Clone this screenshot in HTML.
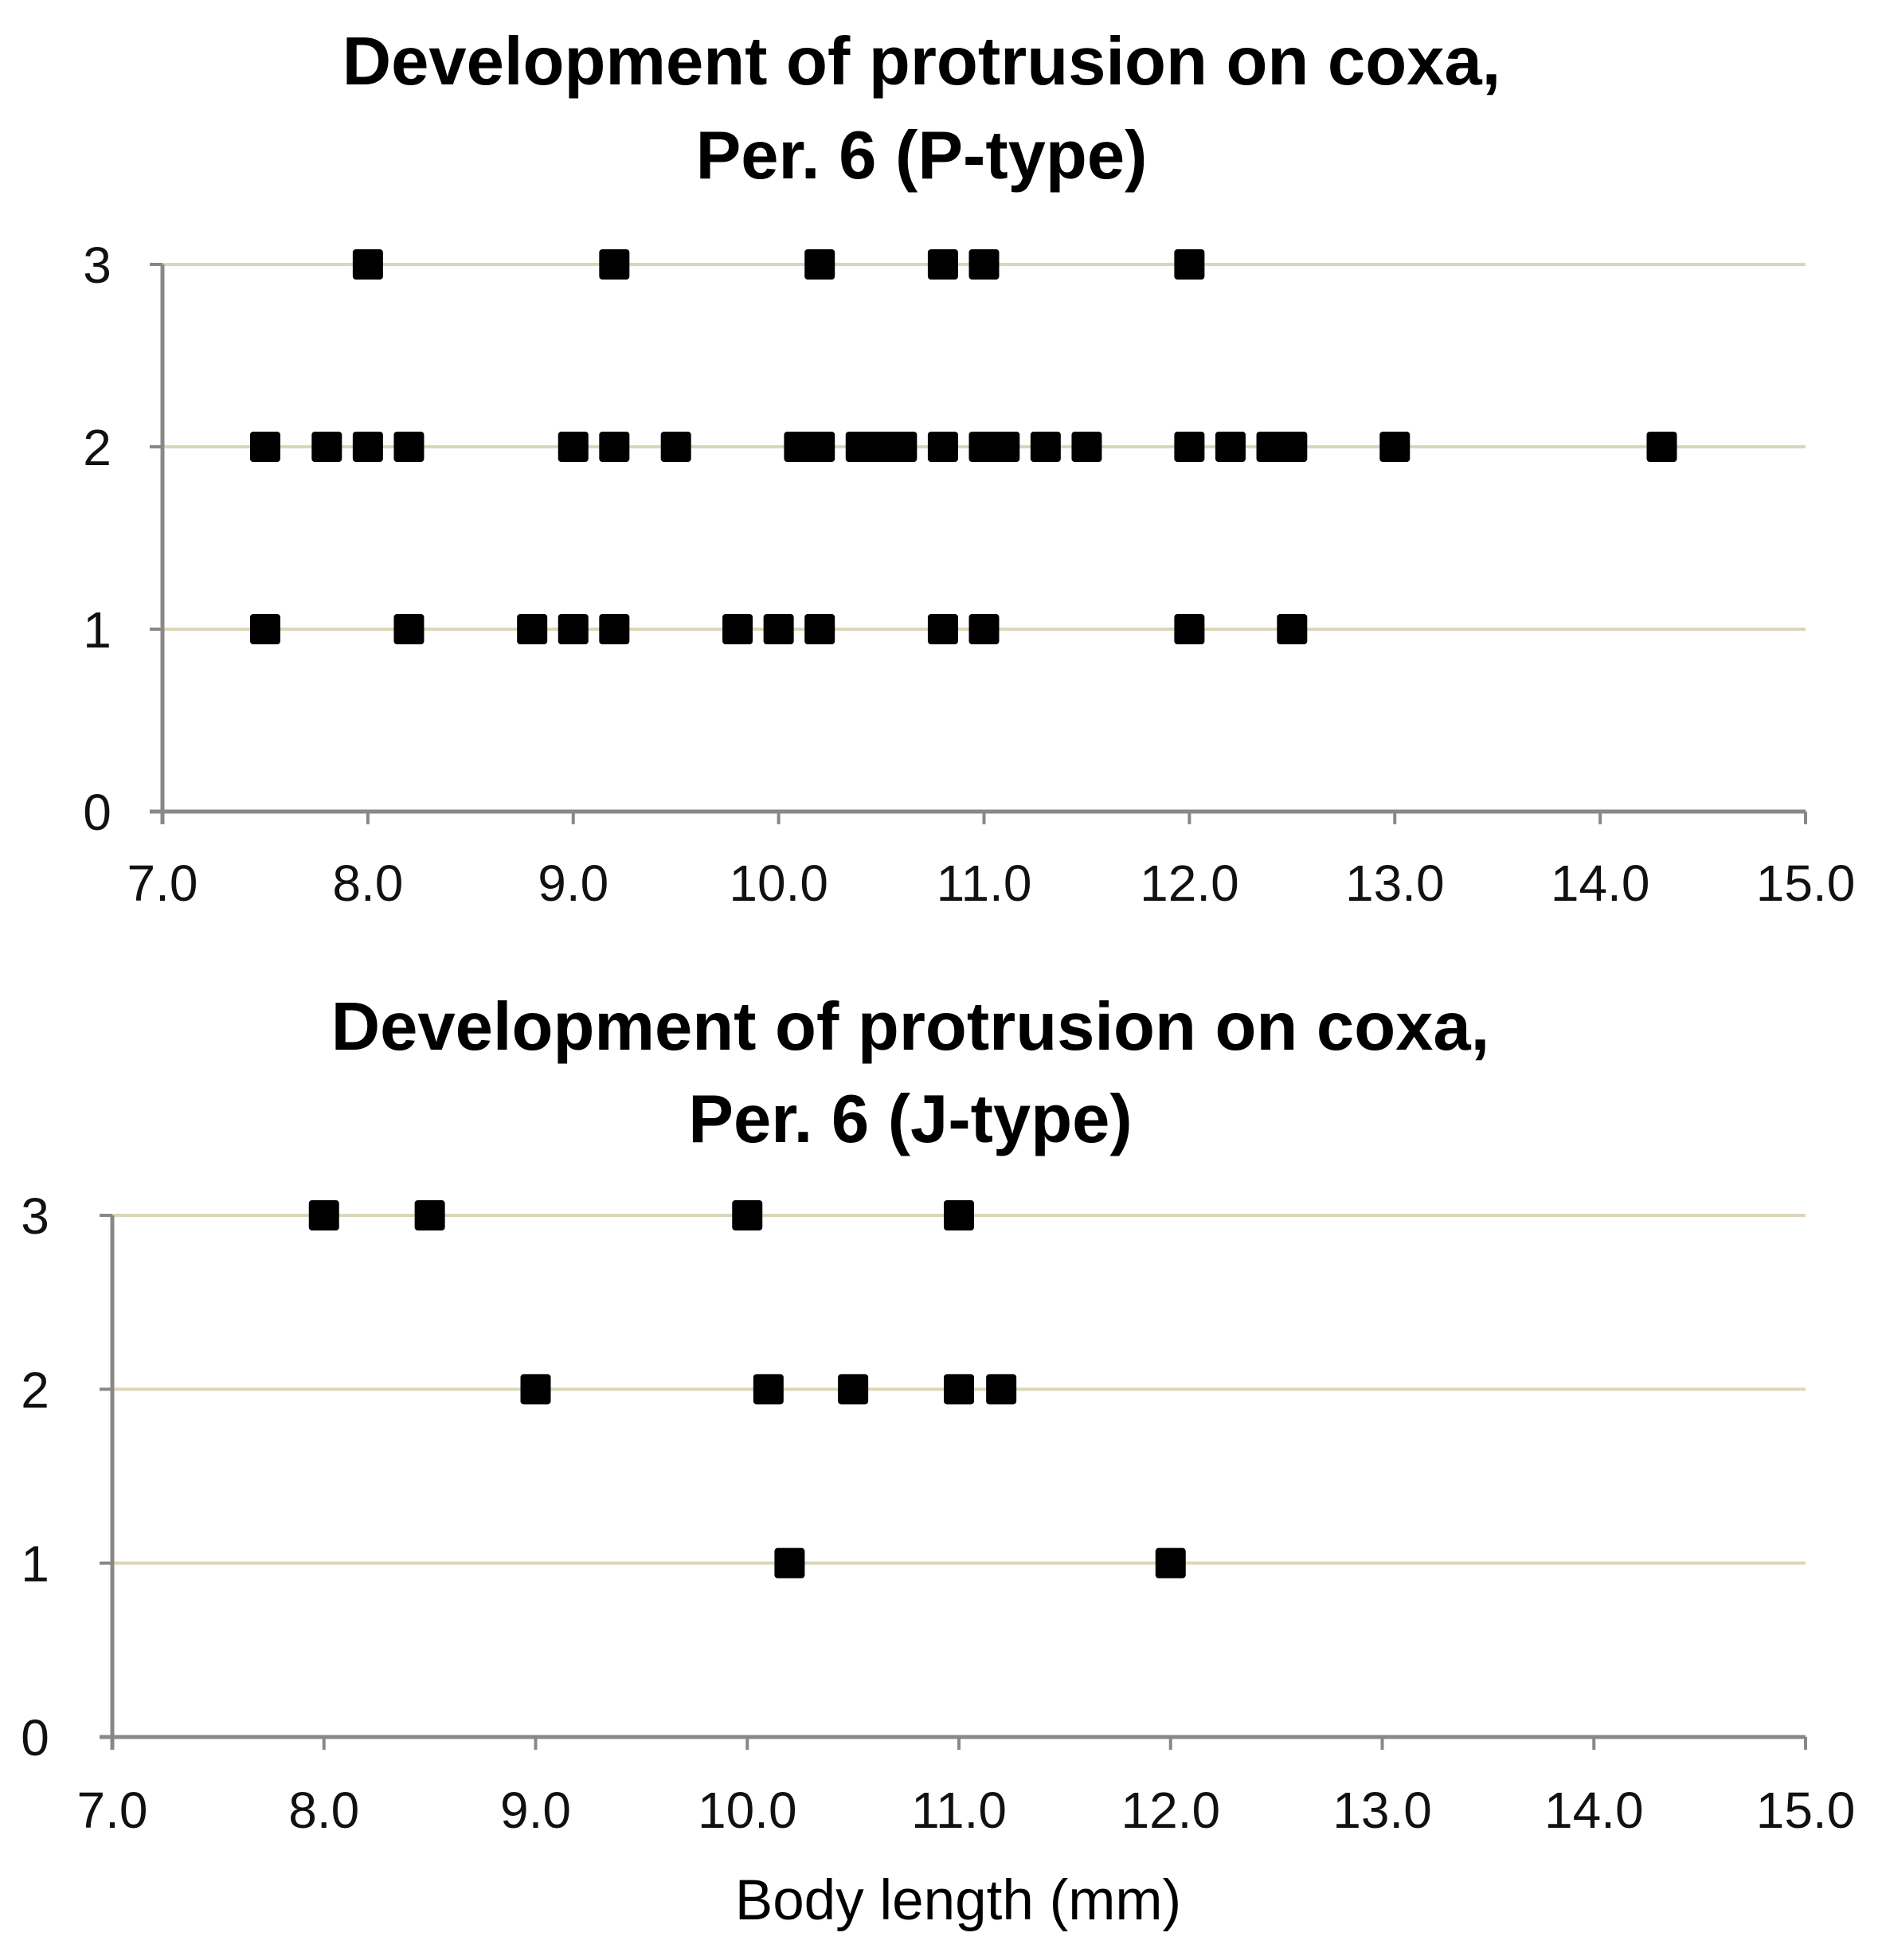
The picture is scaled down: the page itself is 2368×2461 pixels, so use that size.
<!DOCTYPE html>
<html><head><meta charset="utf-8"><style>
html,body{margin:0;padding:0;background:#fff;}
svg{display:block;font-family:"Liberation Sans","DejaVu Sans",sans-serif;}
</style></head><body>
<svg id="chart" width="2368" height="2461" viewBox="0 0 2368 2461">
<g>
<text x="1157" y="106" text-anchor="middle" font-size="85" font-weight="bold">Development of protrusion on coxa,</text>
<text x="1157" y="224" text-anchor="middle" font-size="85" font-weight="bold">Per. 6 (P-type)</text>
<g id="p1"></g>
</g>
<g>
<text x="1143" y="1318" text-anchor="middle" font-size="85" font-weight="bold">Development of protrusion on coxa,</text>
<text x="1143" y="1434" text-anchor="middle" font-size="85" font-weight="bold">Per. 6 (J-type)</text>
<g id="p2"></g>
</g>
<text x="1203" y="2410" text-anchor="middle" font-size="71">Body length (mm)</text>
</svg>
<script>
const xTicks = [7,8,9,10,11,12,13,14,15];
const yTicks = [0,1,2,3];
const pLevel3 = [8.0, 9.2, 10.2, 10.8, 11.0, 12.0];
const pLevel2 = [7.5, 7.8, 8.0, 8.2, 9.0, 9.2, 9.5, 10.1, 10.2, 10.4, 10.5, 10.6, 10.8, 11.0, 11.1, 11.3, 11.5, 12.0, 12.2, 12.4, 12.5, 13.0, 14.3];
const pLevel1 = [7.5, 8.2, 8.8, 9.0, 9.2, 9.8, 10.0, 10.2, 10.8, 11.0, 12.0, 12.5];
const jLevel3 = [8.0, 8.5, 10.0, 11.0];
const jLevel2 = [9.0, 10.1, 10.5, 11.0, 11.2];
const jLevel1 = [10.2, 12.0];

const NS = 'http://www.w3.org/2000/svg';
function mk(parent, tag, attrs){
  const e = document.createElementNS(NS, tag);
  for (const k in attrs) e.setAttribute(k, attrs[k]);
  parent.appendChild(e);
  return e;
}
function drawPanel(gid, prefix, L, R, Y0, Y3, ylabX, xlabY, levels){
  const g = document.getElementById(gid);
  const sx = v => L + (v - 7) / 8 * (R - L);
  const sy = v => Y0 + v / 3 * (Y3 - Y0);
  yTicks.forEach(t => {
    if (t > 0) {
      const gl = mk(g, 'line', {x1:L, x2:R, y1:sy(t), y2:sy(t), stroke:'#dcd6b8', 'stroke-width':4});
      
      
    }
    const tk = mk(g, 'line', {x1:L-16, x2:L, y1:sy(t), y2:sy(t), stroke:'#888', 'stroke-width':4});
    
    
    const tl = mk(g, 'text', {x:ylabX, y:sy(t)+23, 'text-anchor':'middle', 'font-size':64, fill:'#111'});
    tl.textContent = t;
    
    
  });
  xTicks.forEach(t => {
    const tk = mk(g, 'line', {x1:sx(t), x2:sx(t), y1:Y0, y2:Y0+16, stroke:'#888', 'stroke-width':4});
    
    
    const tl = mk(g, 'text', {x:sx(t), y:xlabY, 'text-anchor':'middle', 'font-size':64, fill:'#111'});
    tl.textContent = t.toFixed(1);
    
    
  });
  const ya = mk(g, 'line', {x1:L, x2:L, y1:Y3, y2:Y0+16, stroke:'#888', 'stroke-width':5});
  
  
  const xa = mk(g, 'line', {x1:L-16, x2:R, y1:Y0, y2:Y0, stroke:'#888', 'stroke-width':5});
  
  
  levels.forEach(([lvl, arr]) => {
    arr.forEach(v => {
      const m = mk(g, 'rect', {x:sx(v)-19, y:sy(lvl)-19, width:38, height:38, rx:4, fill:'#000'});
      
      
    });
  });
}
drawPanel('p1', 'p-type', 204, 2267, 1019, 332, 122, 1131, [[3,pLevel3],[2,pLevel2],[1,pLevel1]]);
drawPanel('p2', 'j-type', 141, 2267, 2181, 1526, 44, 2295, [[3,jLevel3],[2,jLevel2],[1,jLevel1]]);
</script>
</body></html>
